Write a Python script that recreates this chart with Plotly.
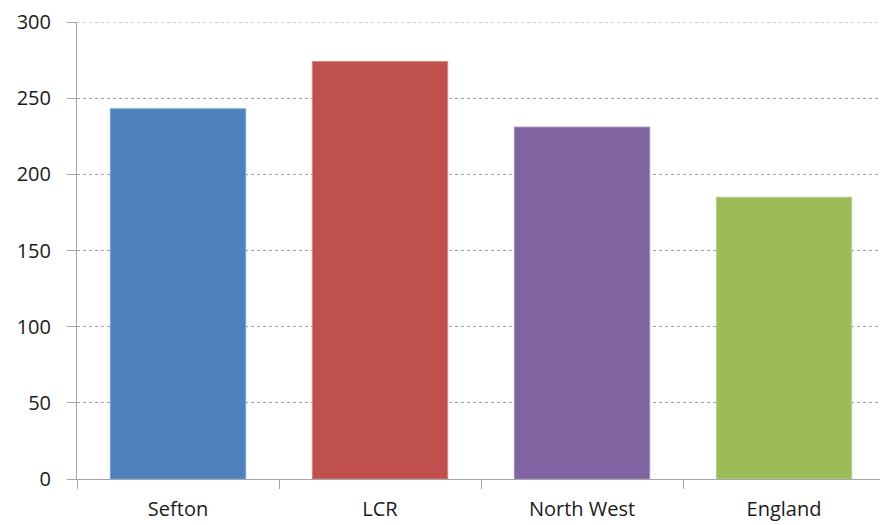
import plotly.graph_objects as go

# Values per area
areas = ["Sefton", "LCR", "North West", "England"]
values = [243, 274, 231, 185]
bar_colors = ["#4F81BD", "#C0504D", "#8064A2", "#9BBB59"]
edge_colors = ["#7A9FCF", "#D4837F", "#A08BBB", "#B8D088"]

y_ticks = [0, 50, 100, 150, 200, 250, 300]

fig = go.Figure(
    go.Bar(
        x=areas,
        y=values,
        marker=dict(color=bar_colors, line=dict(color=edge_colors, width=1)),
        width=0.67,
        hoverinfo="x+y",
    )
)

axis_grey = "#A6A6A6"
grid_grey = "#A0A0A0"

fig.update_layout(
    width=880,
    height=525,
    margin=dict(l=77, r=0, t=22, b=46),
    plot_bgcolor="white",
    paper_bgcolor="white",
    showlegend=False,
    font=dict(family="Open Sans, Liberation Sans, sans-serif", size=20, color="#1a1a1a"),
)

# top gridline sits on the edge of the plot area, draw it explicitly
fig.add_shape(
    type="line", xref="paper", yref="y",
    x0=0, x1=1, y0=y_ticks[-1], y1=y_ticks[-1],
    line=dict(color=grid_grey, width=1, dash="3px,3px"),
    layer="below",
)

fig.update_xaxes(
    range=[-0.5, 3.475],
    showline=True,
    linecolor=axis_grey,
    linewidth=1,
    ticks="outside",
    tickson="boundaries",
    ticklen=9,
    tickcolor=axis_grey,
    showgrid=False,
    ticklabelstandoff=12,
    tickfont=dict(size=20),
)

fig.update_yaxes(
    range=[0, 300],
    tickvals=y_ticks,
    showline=True,
    linecolor=axis_grey,
    linewidth=1,
    ticks="outside",
    ticklen=9,
    tickcolor=axis_grey,
    showgrid=True,
    gridcolor=grid_grey,
    griddash="3px,3px",
    gridwidth=1,
    zeroline=False,
    ticklabelstandoff=12,
    tickfont=dict(size=20),
)

fig.write_html("out.html")
